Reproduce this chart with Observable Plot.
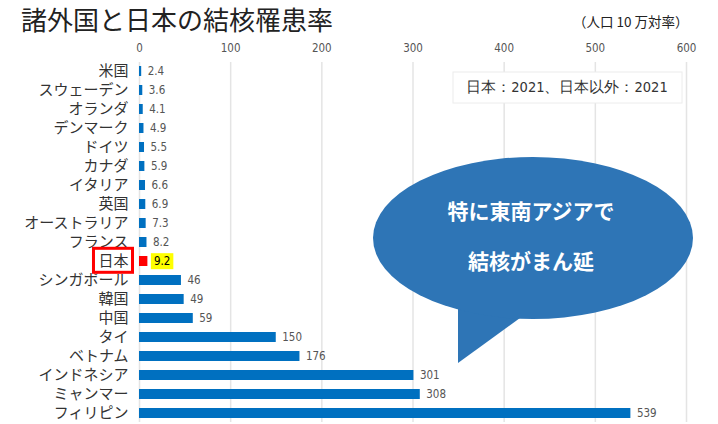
<!DOCTYPE html>
<html><head><meta charset="utf-8">
<script src="https://cdn.jsdelivr.net/npm/d3@7"></script>
<script src="https://cdn.jsdelivr.net/npm/@observablehq/plot@0.6"></script>
<style>
body{margin:0;background:#fff;font-family:"Noto Sans CJK JP","Noto Sans",sans-serif;}
#wrap{position:relative;width:718px;height:424px;overflow:hidden;}
#title{position:absolute;left:21px;top:2px;font-size:26px;color:#222;line-height:34px;}
#sub{position:absolute;left:573px;top:11px;font-size:13.5px;color:#222;}
#chart{position:absolute;left:0;top:36px;}
</style></head>
<body><div id="wrap">
<div id="title">諸外国と日本の結核罹患率</div>
<div id="sub">（人口 10 万対率）</div>
<div id="chart"></div>
</div>
<script>
const countries = ["米国","スウェーデン","オランダ","デンマーク","ドイツ","カナダ","イタリア","英国","オーストラリア","フランス","日本","シンガポール","韓国","中国","タイ","ベトナム","インドネシア","ミャンマー","フィリピン"];
const rates = [2.4,3.6,4.1,4.9,5.5,5.9,6.6,6.9,7.3,8.2,9.2,46,49,59,150,176,301,308,539];
const xTicks = [0,100,200,300,400,500,600];
const highlight = "日本";
const legendText = "日本：2021、日本以外：2021";
const bubbleLines = ["特に東南アジアで","結核がまん延"];

const data = countries.map((c,i)=>({country:c, rate:rates[i]}));
const narrow = "'Liberation Sans Narrow','DejaVu Sans Condensed','Liberation Sans',sans-serif";

const plot = Plot.plot({
  width:718, height:388,
  marginLeft:139, marginRight:32, marginTop:26, marginBottom:2,
  style:{fontFamily:"'Noto Sans CJK JP',sans-serif", background:"transparent"},
  x:{domain:[0,600], ticks:xTicks, axis:"top", label:null, tickSize:0, tickPadding:11},
  y:{domain:countries, label:null, tickSize:0, tickPadding:11, paddingInner:0.5, paddingOuter:0.2},
  marks:[
    Plot.gridX(xTicks,{stroke:"#e4e4e4", strokeOpacity:1, strokeWidth:1.5}),
    Plot.barX(data,{x:"rate", y:"country", fill:d=>d.country===highlight?"#ff0000":"#0070c0"}),
    Plot.text(data,{x:"rate", y:"country", text:d=>String(d.rate), dx:6, textAnchor:"start",
      fill:d=>d.country===highlight?"#000":"#555", fontWeight:d=>d.country===highlight?"bold":"normal",
      fontSize:11.5, fontFamily:narrow, className:"vlab"})
  ]
});
document.getElementById("chart").appendChild(plot);
const svg = d3.select(plot);
svg.selectAll("g[aria-label='x-axis tick label'] text").attr("font-size",11.5).attr("fill","#555").style("font-family",narrow);
svg.selectAll("g[aria-label='y-axis tick label'] text").attr("font-size",15).attr("fill","#333");

function boxFor(el){
  const b = el.getBBox();
  const tr = el.getAttribute("transform");
  return {b, tr};
}
// yellow background behind Japan value
svg.selectAll("text").each(function(){
  if (this.textContent === String(rates[countries.indexOf(highlight)])) {
    const {b,tr} = boxFor(this);
    const r = d3.select(this.parentNode).insert("rect", ()=>this)
      .attr("x",b.x-3).attr("y",b.y-1).attr("width",b.width+6).attr("height",b.height+2).attr("fill","#ffff00");
    if (tr) r.attr("transform",tr);
  }
});
svg.selectAll("g[aria-label='y-axis tick label'] text").each(function(){
  if (this.textContent === highlight) {
    const {b,tr} = boxFor(this);
    const r = d3.select(this.parentNode).append("rect").attr("x",b.x-5).attr("y",b.y-1).attr("width",b.width+9).attr("height",b.height+3)
      .attr("fill","none").attr("stroke","#ff0000").attr("stroke-width",3);
    if (tr) r.attr("transform",tr);
  }
});

// legend box
const lg = svg.append("g");
lg.append("rect").attr("x",453).attr("y",36).attr("width",229).attr("height",31).attr("fill","#fff").attr("stroke","#ececec");
lg.append("text").attr("x",567).attr("y",52).attr("text-anchor","middle").attr("dominant-baseline","middle")
  .attr("font-size",14.5).attr("fill","#333").style("font-family",narrow).text(legendText);

// speech bubble
const bb = svg.append("g");
bb.append("path").attr("d","M458,272 L458,327 L520,282 Z").attr("fill","#2e75b6");
bb.append("ellipse").attr("cx",533).attr("cy",202).attr("rx",160).attr("ry",81).attr("fill","#2e75b6");
bubbleLines.forEach((t,i)=>{
  bb.append("text").attr("x",531).attr("y",177+i*50).attr("text-anchor","middle").attr("dominant-baseline","middle")
    .attr("font-size",21).attr("font-weight","bold").attr("fill","#fff").text(t);
});
</script>
</body></html>
